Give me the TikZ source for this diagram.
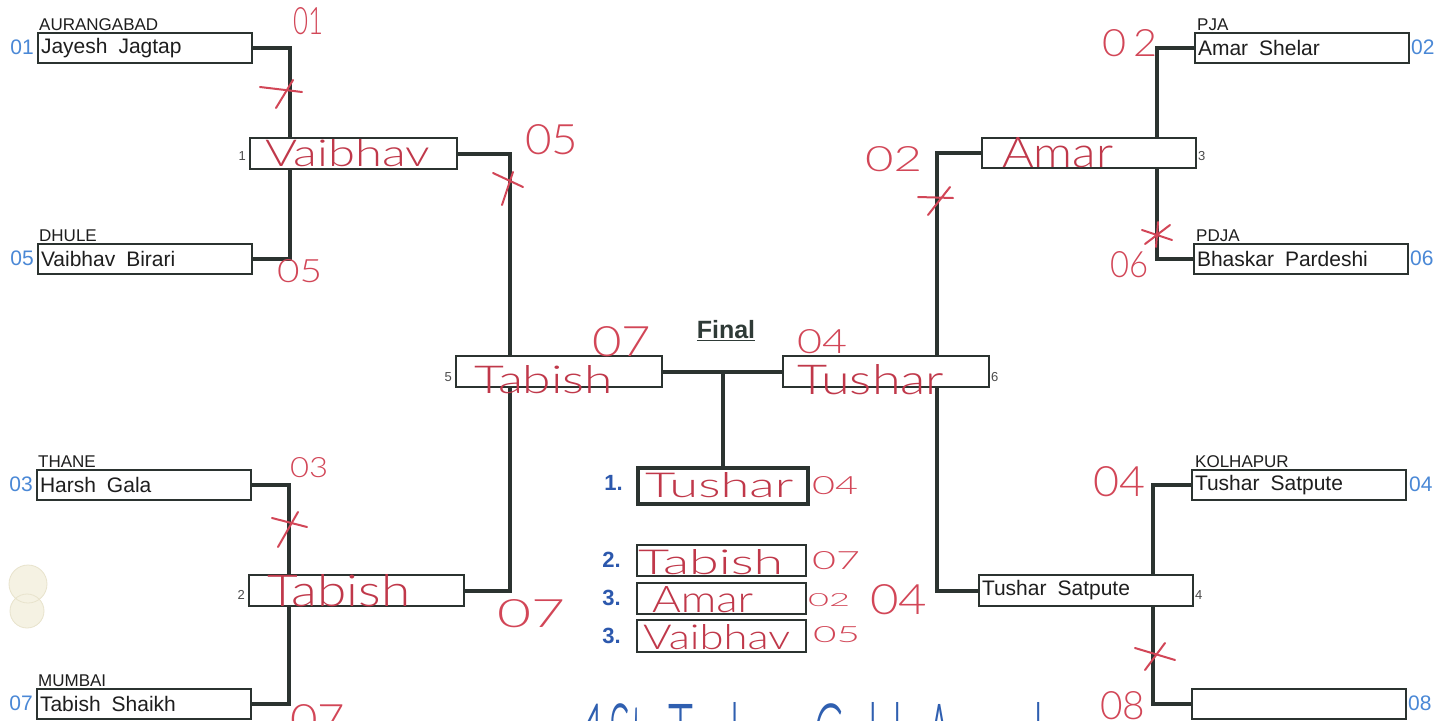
\documentclass[tikz,border=0pt]{standalone}
\usepackage{fontspec}
\usepackage{graphicx}
\usetikzlibrary{calc,backgrounds}
\setmainfont{Liberation Sans}
\newfontfamily\hwfont{Lato}[UprightFont={* Light}]
\definecolor{linec}{HTML}{2B3330}
\definecolor{namec}{HTML}{1E1E1E}
\definecolor{seedc}{HTML}{4A88D6}
\definecolor{rankc}{HTML}{2C58AD}
\definecolor{hwred}{HTML}{D24657}
\definecolor{hwdark}{HTML}{C0384A}
\definecolor{hwblue}{HTML}{2F5FB0}
\definecolor{finalc}{HTML}{2F3B37}
\definecolor{blobc}{HTML}{F5F2E3}
\definecolor{blobd}{HTML}{E8E3CC}
\newcommand\gp{\hspace{11pt}}
\newcommand\hw[3]{\resizebox{#1pt}{#2pt}{\hwfont #3}}
\begin{document}
\begin{tikzpicture}[x=1pt,y=-1pt,
  conn/.style={draw=linec, line width=4pt, line join=miter},
  box/.style={draw=linec, line width=2pt, fill=white, anchor=north west,
    inner xsep=3pt, inner ysep=0pt, minimum height=30pt, text width=208pt,
    align=left, text=namec, font=\fontsize{21}{21}\selectfont},
  region/.style={anchor=base west, inner sep=0pt, text=namec, font=\fontsize{17}{17}\selectfont},
  seed/.style={inner sep=0pt, text=seedc, font=\fontsize{21}{21}\selectfont},
  mnum/.style={inner sep=0pt, text=namec!80, font=\fontsize{13}{13}\selectfont},
  rank/.style={anchor=east, inner sep=0pt, text=rankc, font=\bfseries\fontsize{22}{22}\selectfont},
  hw/.style={inner sep=0pt, anchor=south west, text=hwred},
  hwin/.style={hw, text=hwdark},
  xmark/.style={draw=hwred, line width=2pt, line cap=round}]
\useasboundingbox (0,0) rectangle (1437,720);
\clip (0,0) rectangle (1437,720);

% boxes
\node[box] (P1) at (37,32) {Jayesh\gp Jagtap};
\node[box] (P5) at (37,243) {Vaibhav\gp Birari};
\node[box] (P3) at (36,469) {Harsh\gp Gala};
\node[box] (P7) at (36,688) {Tabish\gp Shaikh};
\node[box] (P2) at (1194,32) {Amar\gp Shelar};
\node[box] (P6) at (1193,243) {Bhaskar\gp Pardeshi};
\node[box] (P4) at (1191,469) {Tushar\gp Satpute};
\node[box] (P8) at (1191,688) {\phantom{X}};
\node[box, text width=201pt, minimum height=31pt] (R1) at (249,137) {};
\node[box, text width=209pt, minimum height=31pt] (R2) at (248,574) {};
\node[box, text width=208pt] (R3) at (981,137) {};
\node[box, text width=208pt, minimum height=31pt] (R4) at (978,574) {Tushar\gp Satpute};
\node[box, text width=200pt, minimum height=31pt] (S5) at (455,355) {};
\node[box, text width=200pt, minimum height=31pt] (S6) at (782,355) {};
\node[box, line width=4pt, text width=164pt, minimum height=36pt] (W1) at (636,466) {};
\node[box, text width=163pt, minimum height=31pt] (W2) at (636,544) {};
\node[box, text width=163pt, minimum height=31pt] (W3) at (636,582) {};
\node[box, text width=163pt, minimum height=32pt] (W4) at (636,619) {};

\begin{scope}[on background layer]
\fill[white] (0,0) rectangle (1437,720);
\filldraw[fill=blobc, draw=blobd, line width=0.8pt] (28,584) circle (19) (27,611) circle (17);
\draw[conn] (P1.east) -- ++(37,0) |- (P5.east);
\draw[conn] (P3.east) -- ++(37,0) |- (P7.east);
\draw[conn] (P2.west) -- ++(-37,0) |- (P6.west);
\draw[conn] (P4.west) -- ++(-38,0) |- (P8.west);
\draw[conn] (R1.east) -- ++(52,0) |- (R2.east);
\draw[conn] (R3.west) -- ++(-44,0) |- (R4.west);
\draw[conn] (S5.east) -- (S6.west);
\coordinate (fc) at ($(S5.east)!0.5!(S6.west)$);
\draw[conn] (fc) -- (fc |- W1.north);
\end{scope}

% regions
\node[region] (g1) at (39,30) {AURANGABAD};
\node[region] (g5) at (39,241) {DHULE};
\node[region] (g3) at (38,467) {THANE};
\node[region] (g7) at (38,686) {MUMBAI};
\node[region] (g2) at (1197,30) {PJA};
\node[region] (g6) at (1196,241) {PDJA};
\node[region] (g4) at (1195,467) {KOLHAPUR};

% seeds
\node[seed, anchor=east] (n1) at (34,47) {01};
\node[seed, anchor=east] (n5) at (34,258) {05};
\node[seed, anchor=east] (n3) at (33,484) {03};
\node[seed, anchor=east] (n7) at (33,703) {07};
\node[seed, anchor=west] (n2) at (1411,47) {02};
\node[seed, anchor=west] (n6) at (1410,258) {06};
\node[seed, anchor=west] (n4) at (1409,484) {04};
\node[seed, anchor=west] (n8) at (1408,703) {08};

% match numbers
\node[mnum, anchor=east] (m1) at (246,156) {1};
\node[mnum, anchor=east] (m2) at (245,595) {2};
\node[mnum, anchor=east] (m5) at (452,377) {5};
\node[mnum, anchor=west] (m6) at (991,377) {6};
\node[mnum, anchor=west] (m3) at (1198,156) {3};
\node[mnum, anchor=west] (m4) at (1195,595) {4};

% final
\node[inner sep=0pt, text=finalc, font=\bfseries\fontsize{25}{25}\selectfont] (fin) at (726,331) {\underline{Final}};
\node[rank] (k1) at (623,483) {1.};
\node[rank] (k2) at (621,560) {2.};
\node[rank] (k3) at (621,598) {3.};
\node[rank] (k4) at (621,636) {3.};

% handwriting
\node[hw] (h1) at (293,35) {\hw{30}{27}{01}};
\node[hwin] (h2) at (265,167) {\hw{165}{27}{Vaibhav}};
\node[hw] (h3) at (525,155) {\hw{53}{30}{05}};
\node[hw] (h4) at (277,283) {\hw{45}{23}{05}};
\node[hw] (h5) at (1102,57) {\hw{55}{27}{0\,2}};
\node[hwin] (h6) at (1002,168) {\hw{111}{30}{Amar}};
\node[hw] (h7) at (1110,278) {\hw{38}{26}{06}};
\node[hw] (h8) at (865,172) {\hw{57}{25}{02}};
\node[hw] (h9) at (592,357) {\hw{59}{30}{07}};
\node[hwin] (h10) at (474,394) {\hw{139}{28}{Tabish}};
\node[hw] (h11) at (797,354) {\hw{50}{24}{04}};
\node[hwin] (h12) at (797,395) {\hw{147}{30}{Tushar}};
\node[hwin] (h13) at (645,498) {\hw{148}{25}{Tushar}};
\node[hw] (h14) at (812,495) {\hw{46}{18}{04}};
\node[hwin] (h15) at (638,575) {\hw{145}{25}{Tabish}};
\node[hw] (h16) at (812,570) {\hw{48}{18}{07}};
\node[hwin] (h17) at (652,613) {\hw{101}{26}{Amar}};
\node[hw] (h18) at (808,607) {\hw{42}{13}{02}};
\node[hw] (h19) at (870,615) {\hw{57}{30}{04}};
\node[hwin] (h20) at (643,650) {\hw{147}{25}{Vaibhav}};
\node[hw] (h21) at (813,643) {\hw{47}{16}{05}};
\node[hw] (h22) at (290,478) {\hw{38}{20}{03}};
\node[hwin] (h23) at (267,607) {\hw{143}{32}{Tabish}};
\node[hw] (h24) at (497,628) {\hw{68}{28}{07}};
\node[hw] (h25) at (290,735) {\hw{55}{30}{07}};
\node[hw] (h26) at (1093,497) {\hw{52}{30}{04}};
\node[hw] (h27) at (1100,720) {\hw{45}{28}{08}};
\node[hw, text=hwblue] (h28) at (583,775) {\hw{460}{72}{1St\ \ Tushar\ \ Gold\ \ Award}};

% strike marks
\draw[xmark] (260,87) -- (302,92) (293,80) -- (276,108);
\draw[xmark] (493,173) -- (523,187) (513,172) -- (502,205);
\draw[xmark] (918,197) -- (953,198) (950,187) -- (928,215);
\draw[xmark] (1142,230) -- (1172,240) (1145,244) -- (1170,225) (1158,222) -- (1156,247);
\draw[xmark] (272,518) -- (307,527) (298,512) -- (278,547);
\draw[xmark] (1135,648) -- (1175,660) (1165,643) -- (1145,670);
\end{tikzpicture}
\end{document}
